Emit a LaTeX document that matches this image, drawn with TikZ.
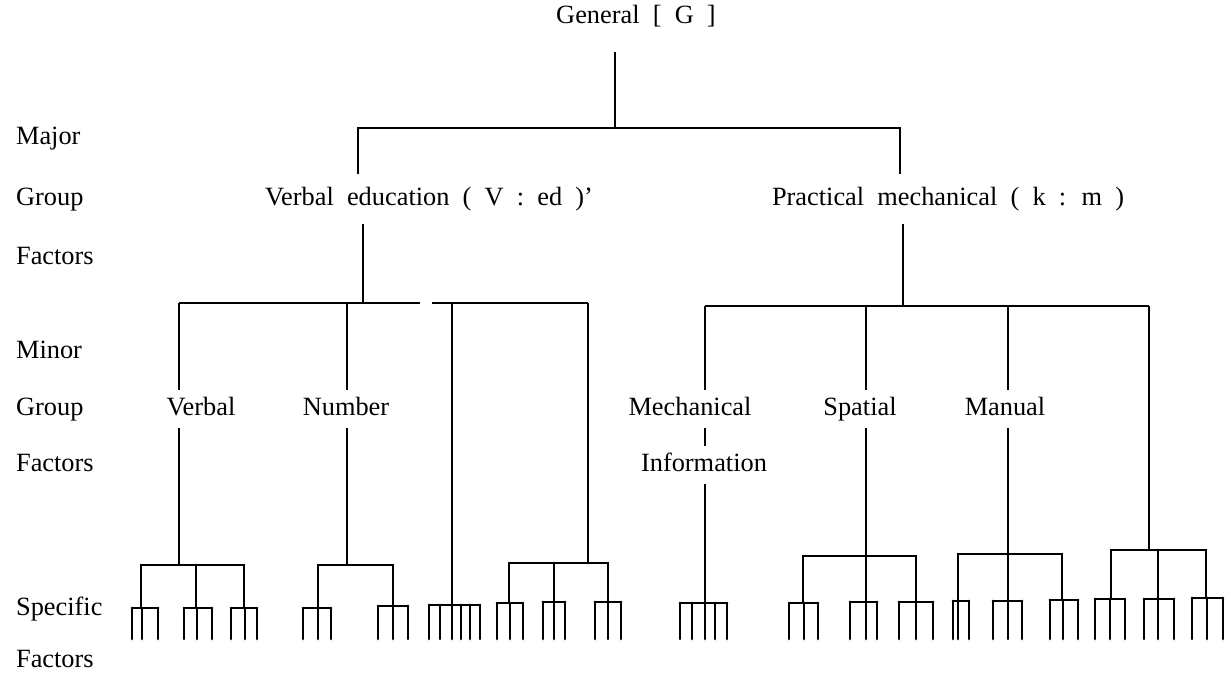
\documentclass[tikz,border=0pt]{standalone}
\usepackage{fontspec}
\setmainfont{Liberation Serif}[WordSpace=2]
\usetikzlibrary{positioning}

\tikzset{
  factor/.style={font=\fontsize{15}{17}\selectfont, inner sep=1pt,
                 text height=10.5pt, text depth=3pt},
  rowname/.style={factor, anchor=west},
  major/.style={factor, inner ysep=7pt},
  minor/.style={factor, inner ysep=4pt},
  branch/.style={line width=0.8pt},
  twig/.style={line width=1.6pt, line cap=round},
}

% a bar with its tines hanging down: height, first, last, inner tines
\newcommand{\fork}[4]{%
  \draw[twig] (#2,#1) -- (#3,#1);
  \foreach \t in {#2,#4,#3}
    \draw[twig] (\t,#1) -- (\t,639);
}

\begin{document}
\begin{tikzpicture}[x=0.02cm, y=-0.02cm]
  \useasboundingbox (0,0) rectangle (1231,674);

  % level names on the left
  \foreach \y/\t in {138/Major, 199/Group, 258/Factors, 352/Minor, 409/Group, 465/Factors, 609/Specific, 661/Factors}
    \node[rowname] (row\y) at (14,\y) {\t};

  % general and major group factors
  \node[factor] (G) at (636,17) {General [ G ]};
  \node[major] (ved) at (429,199) {Verbal education ( V : ed )'};
  \node[major] (km) at (948,199) {Practical mechanical ( k : m )};

  \coordinate (g0) at (615,52);
  \coordinate (g) at (615,128);
  \coordinate (a) at (358,128);
  \coordinate (b) at (900,128);
  \draw[branch] (g0) -- (g);
  \draw[branch] (a |- ved.north) -- (a) -- (b) -- (b |- km.north);

  % minor group factors
  \node[minor] (verbal) at (201,409) {Verbal};
  \node[minor] (number) at (346,409) {Number};
  \node[minor] (mech) at (690,409) {Mechanical};
  \node[minor] (info) at (704,465) {Information};
  \node[minor] (spatial) at (860,409) {Spatial};
  \node[minor] (manual) at (1005,409) {Manual};

  \coordinate (lv) at (363,303);
  \coordinate (l1) at (179,303);
  \coordinate (l2) at (347,303);
  \coordinate (l3) at (452,303);
  \coordinate (l4) at (588,303);
  \draw[branch] (lv |- ved.south) -- (lv);
  \draw[branch] (l1) -- ++(241,0) (l4) -- ++(-156,0);

  \coordinate (rv) at (903,306);
  \coordinate (r1) at (705,306);
  \coordinate (r2) at (866,306);
  \coordinate (r3) at (1008,306);
  \coordinate (r4) at (1149,306);
  \draw[branch] (rv |- km.south) -- (rv);
  \draw[branch] (r1) -- (r4);

  % where each minor factor splits up
  \coordinate (vb) at (179,565);
  \coordinate (nb) at (347,565);
  \coordinate (wb) at (452,605);
  \coordinate (xb) at (588,563);
  \coordinate (mb) at (705,603);
  \coordinate (sb) at (866,556);
  \coordinate (ub) at (1008,554);
  \coordinate (zb) at (1149,550);

  \draw[branch] (l1) -- (l1 |- verbal.north) (l1 |- verbal.south) -- (vb);
  \draw[branch] (l2) -- (l2 |- number.north) (l2 |- number.south) -- (nb);
  \draw[branch] (l3) -- (wb);
  \draw[branch] (l4) -- (xb);
  \draw[branch] (r1) -- (r1 |- mech.north) (r1 |- mech.south) -- (r1 |- info.north)
                (r1 |- info.south) -- (mb);
  \draw[branch] (r2) -- (r2 |- spatial.north) (r2 |- spatial.south) -- (sb);
  \draw[branch] (r3) -- (r3 |- manual.north) (r3 |- manual.south) -- (ub);
  \draw[branch] (r4) -- (zb);

  % second level bars
  \draw[twig] (141,608) |- (vb) -| (244,608);
  \draw[twig] (196,565) -- (196,608);
  \draw[twig] (318,608) |- (nb) -| (393,606);
  \draw[twig] (509,603) |- (xb) -| (608,602);
  \draw[twig] (554,563) -- (554,602);
  \draw[twig] (803,603) |- (sb) -| (916,602);
  \draw[twig] (sb) -- (866,602);
  \draw[twig] (958,601) |- (ub) -| (1062,600);
  \draw[twig] (ub) -- (1008,601);
  \draw[twig] (1111,599) |- (zb) -| (1206,598);
  \draw[twig] (1158,550) -- (1158,599);

  % specific factors
  \fork{608}{132}{158}{142}
  \fork{608}{184}{212}{197}
  \fork{608}{231}{257}{245}
  \fork{608}{303}{331}{318}
  \fork{606}{378}{408}{393}
  \fork{605}{429}{480}{440,452,461,470}
  \fork{603}{497}{523}{510}
  \fork{602}{543}{565}{554}
  \fork{602}{595}{621}{608}
  \fork{603}{680}{727}{692,705,715}
  \fork{603}{789}{818}{804}
  \fork{602}{850}{877}{866}
  \fork{602}{899}{933}{916}
  \fork{601}{953}{969}{958}
  \fork{601}{993}{1022}{1008}
  \fork{600}{1050}{1078}{1063}
  \fork{599}{1095}{1125}{1110}
  \fork{599}{1144}{1174}{1158}
  \fork{598}{1192}{1223}{1207}
\end{tikzpicture}
\end{document}
